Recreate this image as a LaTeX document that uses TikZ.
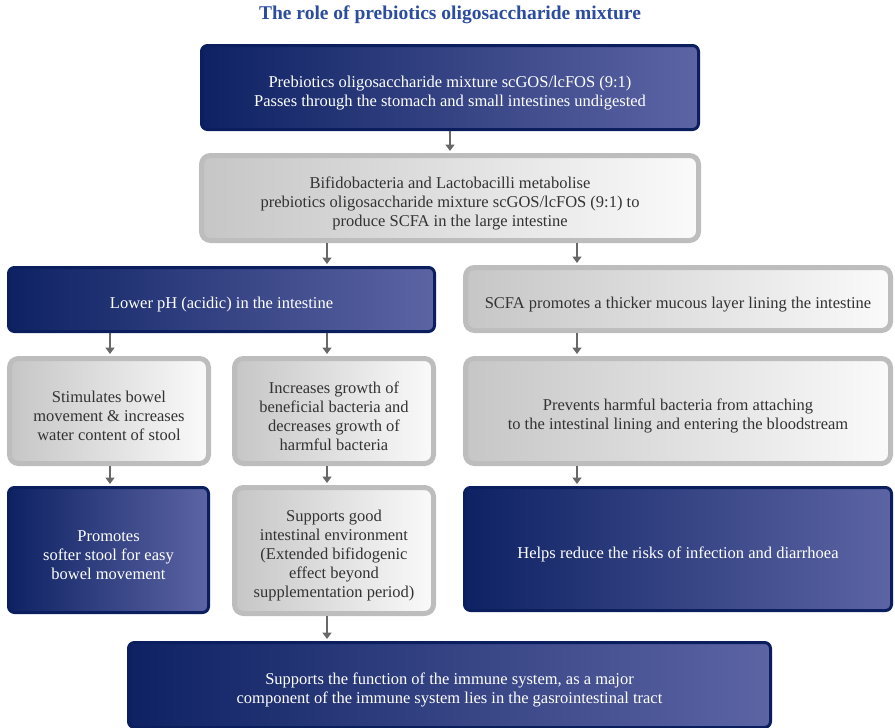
\documentclass[tikz,border=0pt]{standalone}
\usepackage{fontspec}
\setmainfont{Liberation Serif}
\usepackage{xcolor}
\usetikzlibrary{arrows.meta,positioning}
\definecolor{navy}{HTML}{0B1F5F}
\definecolor{navyl}{HTML}{0E2263}
\definecolor{navyr}{HTML}{5C64A4}
\definecolor{greyrim}{HTML}{BDBDBD}
\definecolor{greyl}{HTML}{C6C6C6}
\definecolor{greyr}{HTML}{FAFAFA}
\definecolor{titleblue}{HTML}{2B4C9F}
\definecolor{arrgrey}{HTML}{686868}
\definecolor{txtgrey}{HTML}{333333}

\begin{document}
\begin{tikzpicture}[x=1pt, y=-1pt, every node/.style={font=\fontsize{16.5}{19}\selectfont}, rows/.style={execute at begin node={\rule{0pt}{\dimexpr 3pt+19pt*#1\relax}}}, darkbox/.style={draw=navy,line width=3pt,rounded corners=6pt,left color=navyl,right color=navyr,text=white,align=center,inner sep=0pt}, greybox/.style={draw=greyrim,line width=5pt,rounded corners=9pt,left color=greyl,right color=greyr,text=txtgrey,align=center,inner sep=0pt}, arr/.style={-{Triangle[width=9pt,length=6.5pt]},line width=1.8pt,draw=arrgrey,shorten >=2pt}]
\useasboundingbox (0,0) rectangle (895,728);
\node[font=\fontsize{19.5}{22}\selectfont\bfseries,text=titleblue] (title) at (450,15) {The role of prebiotics oligosaccharide mixture};
\node[darkbox,rows=2,minimum width=497pt,minimum height=84pt] (mix) at (450,87.5) {Prebiotics oligosaccharide mixture scGOS/lcFOS (9:1)\\Passes through the stomach and small intestines undigested};
\node[greybox,rows=3,minimum width=497pt,minimum height=85pt] (bifido) at (450,198) {Bifidobacteria and Lactobacilli metabolise\\prebiotics oligosaccharide mixture scGOS/lcFOS (9:1) to\\produce SCFA in the large intestine};
\node[darkbox,rows=1,minimum width=426pt,minimum height=64pt] (lowph) at (221.5,299.5) {Lower pH (acidic) in the intestine};
\node[greybox,rows=1,minimum width=425pt,minimum height=63pt] (scfa) at (678,299) {SCFA promotes a thicker mucous layer lining the intestine};
\node[greybox,rows=3,minimum width=199pt,minimum height=105pt] (bowel) at (109,411) {Stimulates bowel\\movement \& increases\\water content of stool};
\node[greybox,rows=4,minimum width=199pt,minimum height=105pt] (growth) at (334,411) {Increases growth of\\beneficial bacteria and\\decreases growth of\\harmful bacteria};
\node[greybox,rows=2,minimum width=425pt,minimum height=105pt] (prevent) at (678,411) {Prevents harmful bacteria from attaching\\to the intestinal lining and entering the bloodstream};
\node[darkbox,rows=3,minimum width=200pt,minimum height=125pt] (softer) at (108.5,550) {Promotes\\softer stool for easy\\bowel movement};
\node[greybox,rows=5,minimum width=199pt,minimum height=126pt] (gut) at (334,550.5) {Supports good\\intestinal environment\\(Extended bifidogenic\\effect beyond\\supplementation period)};
\node[darkbox,rows=1,minimum width=427pt,minimum height=123pt] (infect) at (678,549) {Helps reduce the risks of infection and diarrhoea};
\node[darkbox,rows=2,minimum width=642pt,minimum height=85pt] (immune) at (449.5,685) {Supports the function of the immune system, as a major\\component of the immune system lies in the gasrointestinal tract};
% arrow columns
\coordinate (colA) at (110,0);
\coordinate (colB) at (327,0);
\coordinate (colC) at (450,0);
\coordinate (colD) at (577,0);
\draw[arr] (mix.south -| colC) -- (bifido.north -| colC);
\draw[arr] (bifido.south -| colB) -- (lowph.north -| colB);
\draw[arr] (bifido.south -| colD) -- (scfa.north -| colD);
\draw[arr] (lowph.south -| colA) -- (bowel.north -| colA);
\draw[arr] (lowph.south -| colB) -- (growth.north -| colB);
\draw[arr] (scfa.south -| colD) -- (prevent.north -| colD);
\draw[arr] (bowel.south -| colA) -- (softer.north -| colA);
\draw[arr] (growth.south -| colB) -- (gut.north -| colB);
\draw[arr] (prevent.south -| colD) -- (infect.north -| colD);
\draw[arr] (gut.south -| colB) -- (immune.north -| colB);
\end{tikzpicture}
\end{document}
